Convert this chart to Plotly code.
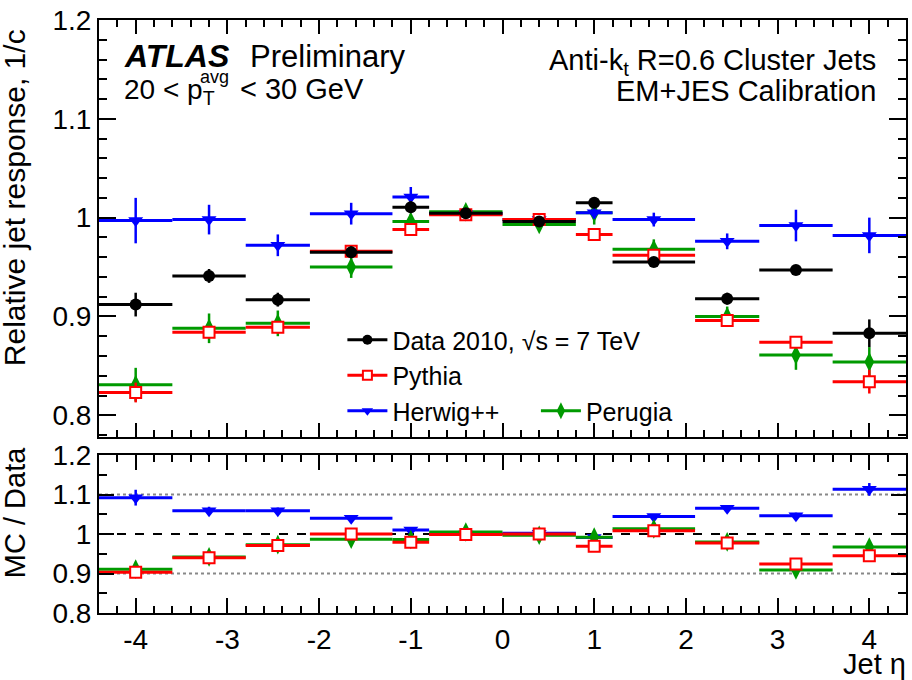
import plotly.graph_objects as go

# ---------------- data ----------------
bin_edges = [-4.5, -3.6, -2.8, -2.1, -1.2, -0.8, 0.0, 0.8, 1.2, 2.1, 2.8, 3.6, 4.5]
eta_centers = [-4.0, -3.2, -2.45, -1.65, -1.0, -0.4, 0.4, 1.0, 1.65, 2.45, 3.2, 4.0]

data_resp = [0.912, 0.941, 0.917, 0.965, 1.0105, 1.0044, 0.996, 1.015, 0.955, 0.918, 0.947, 0.883]
data_err = [0.012, 0.007, 0.007, 0.006, 0.006, 0.003, 0.003, 0.005, 0.004, 0.006, 0.005, 0.014]

pythia_resp = [0.823, 0.884, 0.889, 0.966, 0.988, 1.003, 0.998, 0.983, 0.962, 0.896, 0.874, 0.834]
pythia_err = [0.010, 0.006, 0.006, 0.005, 0.005, 0.003, 0.003, 0.004, 0.004, 0.005, 0.006, 0.012]

herwig_resp = [0.997, 0.998, 0.972, 1.004, 1.021, 1.004, 0.998, 1.005, 0.998, 0.976, 0.992, 0.982]
herwig_err = [0.023, 0.015, 0.011, 0.011, 0.010, 0.004, 0.004, 0.006, 0.007, 0.008, 0.016, 0.018]

perugia_resp = [0.831, 0.888, 0.893, 0.950, 0.996, 1.006, 0.993, 1.005, 0.968, 0.900, 0.861, 0.854]
perugia_err = [0.017, 0.015, 0.013, 0.011, 0.008, 0.004, 0.004, 0.012, 0.010, 0.010, 0.015, 0.015]

pythia_ratio = [0.903, 0.940, 0.971, 1.000, 0.979, 0.999, 1.000, 0.969, 1.008, 0.977, 0.924, 0.945]
pythia_ratio_err = [0.010, 0.006, 0.006, 0.005, 0.005, 0.003, 0.003, 0.005, 0.004, 0.005, 0.006, 0.012]
herwig_ratio = [1.092, 1.059, 1.059, 1.040, 1.010, 1.000, 1.002, 0.991, 1.044, 1.065, 1.046, 1.113]
herwig_ratio_err = [0.020, 0.010, 0.008, 0.006, 0.006, 0.003, 0.003, 0.005, 0.005, 0.006, 0.008, 0.016]
perugia_ratio = [0.911, 0.942, 0.973, 0.987, 0.986, 1.005, 0.997, 0.992, 1.013, 0.980, 0.909, 0.967]
perugia_ratio_err = [0.012, 0.010, 0.008, 0.006, 0.005, 0.003, 0.003, 0.006, 0.006, 0.006, 0.010, 0.012]

x_tick_vals = [-4, -3, -2, -1, 0, 1, 2, 3, 4]
x_tick_labels = ["-4", "-3", "-2", "-1", "0", "1", "2", "3", "4"]
y_top_ticks = [0.8, 0.9, 1.0, 1.1, 1.2]
y_top_labels = ["0.8", "0.9", "1", "1.1", "1.2"]
y_bot_ticks = [0.8, 0.9, 1.0, 1.1, 1.2]
y_bot_labels = ["0.8", "0.9", "1", "1.1", "1.2"]

# ---------------- style ----------------
FONT = "Liberation Sans, Arial, Helvetica, sans-serif"
BLACK, RED, BLUE, GREEN = "#000000", "#ff0000", "#0000ff", "#009a00"
W, H = 912, 680
ML, MR, MT, MB = 99, 4, 20, 67
PW, PH = W - ML - MR, H - MT - MB

def px(xp):
    return (xp - ML) / PW

def py(yp):
    return (H - MB - yp) / PH

ex_plus = [bin_edges[i + 1] - c for i, c in enumerate(eta_centers)]
ex_minus = [c - bin_edges[i] for i, c in enumerate(eta_centers)]

fig = go.Figure()

def marker_style(color, symbol, size, hollow):
    if hollow:
        return dict(symbol=symbol, size=size, color="white", line=dict(color=color, width=2))
    return dict(symbol=symbol, size=size, color=color, line=dict(color=color, width=0))

def add_series(y, err, color, symbol, size, xa, ya, hollow=False):
    fig.add_trace(go.Scatter(
        x=eta_centers, y=y, mode="markers", xaxis=xa, yaxis=ya, showlegend=False,
        marker=marker_style(color, symbol, size, hollow),
        error_x=dict(type="data", symmetric=False, array=ex_plus, arrayminus=ex_minus,
                     color=color, thickness=3, width=0),
        error_y=dict(type="data", array=err, color=color, thickness=2.5, width=0),
    ))

# top panel
add_series(perugia_resp, perugia_err, GREEN, "diamond-tall", 14, "x", "y")
add_series(herwig_resp, herwig_err, BLUE, "triangle-down", 13, "x", "y")
add_series(pythia_resp, pythia_err, RED, "square", 11, "x", "y", hollow=True)
add_series(data_resp, data_err, BLACK, "circle", 12, "x", "y")

# ratio panel
add_series(herwig_ratio, herwig_ratio_err, BLUE, "triangle-down", 13, "x2", "y2")
add_series(perugia_ratio, perugia_ratio_err, GREEN, "diamond-tall", 14, "x2", "y2")
add_series(pythia_ratio, pythia_ratio_err, RED, "square", 11, "x2", "y2", hollow=True)

# legend entries
legend_items = [
    ("Data 2010, \u221As = 7 TeV", BLACK, "circle", 10, False, "legend"),
    ("Pythia", RED, "square", 9, True, "legend"),
    ("Herwig++", BLUE, "triangle-down", 10, False, "legend"),
    ("Perugia", GREEN, "diamond-tall", 12, False, "legend2"),
]
for i, (name, col, sym, sz, hol, lg) in enumerate(legend_items):
    fig.add_trace(go.Scatter(
        x=[None], y=[None], mode="lines+markers", name=name, legend=lg,
        legendgroup=f"g{i}",
        line=dict(color=col, width=3),
        marker=marker_style(col, sym, sz, hol),
    ))

axis_common = dict(showline=True, linecolor="black", linewidth=2, mirror="allticks",
                   ticks="inside", tickcolor="black", tickwidth=1.5, showgrid=False,
                   zeroline=False)

top_dom = [py(437), 1.0]
bot_dom = [0.0, py(455)]

fig.update_layout(
    width=W, height=H,
    margin=dict(l=ML, r=MR, t=MT, b=MB),
    paper_bgcolor="white", plot_bgcolor="white",
    font=dict(family=FONT, size=28, color="black"),
    xaxis=dict(domain=[0, 1], range=[-4.4, 4.4], anchor="y", matches="x2",
               tickvals=x_tick_vals, ticktext=x_tick_labels, showticklabels=False,
               ticklen=14, minor=dict(dtick=0.2, tick0=0, ticklen=7, ticks="inside",
                                      tickcolor="black", tickwidth=1.5),
               **axis_common),
    yaxis=dict(domain=top_dom, range=[0.778, 1.2], anchor="x",
               tickvals=y_top_ticks, ticktext=y_top_labels, ticklen=17,
               tickfont=dict(size=28),
               minor=dict(dtick=0.02, tick0=0.8, ticklen=8, ticks="inside",
                          tickcolor="black", tickwidth=1.5),
               **axis_common),
    xaxis2=dict(domain=[0, 1], range=[-4.4, 4.4], anchor="y2",
                tickvals=x_tick_vals, ticktext=x_tick_labels, tickfont=dict(size=28),
                ticklen=15,
                minor=dict(dtick=0.2, tick0=0, ticklen=7, ticks="inside",
                           tickcolor="black", tickwidth=1.5),
                **axis_common),
    yaxis2=dict(domain=bot_dom, range=[0.8, 1.2], anchor="x2",
                tickvals=y_bot_ticks, ticktext=y_bot_labels, ticklen=15,
                tickfont=dict(size=28),
                minor=dict(dtick=0.05, tick0=0.8, ticklen=8, ticks="inside",
                           tickcolor="black", tickwidth=1.5),
                **axis_common),
    legend=dict(x=px(343), y=py(317), xanchor="left", yanchor="top",
                bgcolor="rgba(0,0,0,0)", borderwidth=0, font=dict(size=25),
                tracegroupgap=0, traceorder="grouped", itemwidth=40),
    legend2=dict(x=px(537), y=py(388), xanchor="left", yanchor="top",
                 bgcolor="rgba(0,0,0,0)", borderwidth=0, font=dict(size=25),
                 itemwidth=40),
    showlegend=True,
)

# reference lines in ratio panel
for yv, dash, col in [(1.1, "dot", "#888888"), (0.9, "dot", "#888888"), (1.0, "dash", "black")]:
    fig.add_shape(type="line", xref="x2 domain", yref="y2", x0=0, x1=1, y0=yv, y1=yv,
                  line=dict(color=col, width=2, dash=dash), layer="below")

ann = [
    dict(text="<b><i>ATLAS</i></b>", x=px(122), y=py(56), xanchor="left", size=32),
    dict(text="Preliminary", x=px(248), y=py(56), xanchor="left", size=31),
    dict(text="20 < p<sub>T</sub>", x=px(122), y=py(92), xanchor="left", size=28),
    dict(text="avg", x=px(198), y=py(77), xanchor="left", size=18),
    dict(text="< 30 GeV", x=px(238), y=py(89), xanchor="left", size=29),
    dict(text="Anti-k<sub>t</sub> R=0.6 Cluster Jets", x=px(880), y=py(62), xanchor="right", size=29),
    dict(text="EM+JES Calibration", x=px(880), y=py(91), xanchor="right", size=29),
    dict(text="Jet \u03b7", x=px(910), y=py(664), xanchor="right", size=29),
]
for a in ann:
    fig.add_annotation(text=a["text"], x=a["x"], y=a["y"], xref="paper", yref="paper",
                       xanchor=a["xanchor"], yanchor="middle", showarrow=False,
                       font=dict(family=FONT, size=a["size"], color="black"))

fig.add_annotation(text="Relative jet response, 1/c", x=px(15), y=py(198), xref="paper", yref="paper",
                   textangle=-90, showarrow=False, xanchor="center", yanchor="middle",
                   font=dict(family=FONT, size=30, color="black"))
fig.add_annotation(text="MC / Data", x=px(15), y=py(513), xref="paper", yref="paper",
                   textangle=-90, showarrow=False, xanchor="center", yanchor="middle",
                   font=dict(family=FONT, size=29, color="black"))

fig.write_html("out.html")
